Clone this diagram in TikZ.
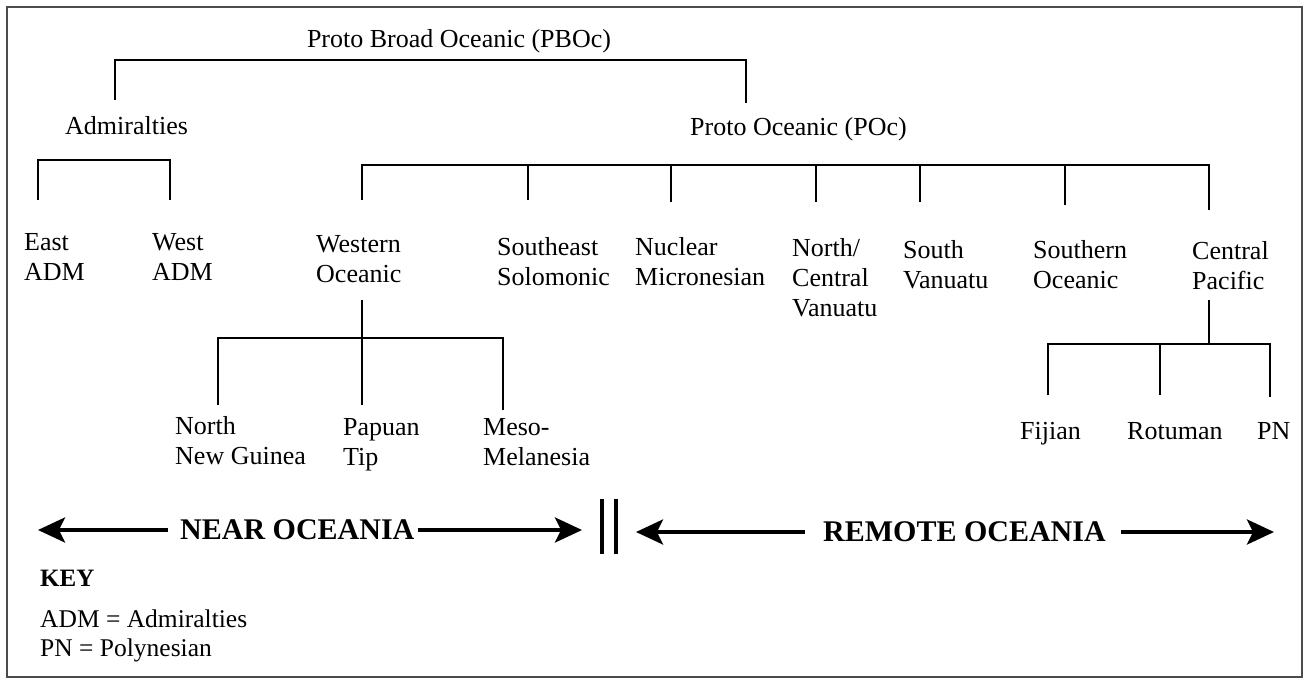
\documentclass[tikz,border=0pt]{standalone}
\usepackage{fontspec}
\setmainfont{Liberation Serif}
\usetikzlibrary{arrows.meta}

\tikzset{
  lang/.style={inner sep=0pt, align=left, anchor=north west, font=\fontsize{26}{30}\selectfont},
  branch/.style={line width=1.8pt},
  zone/.style={inner sep=0pt, anchor=west, font=\fontsize{30}{34}\selectfont\bfseries},
  zonearrow/.style={line width=3.6pt, -{Stealth[length=27pt,width=25pt,inset=6pt]}},
}

\begin{document}
\begin{tikzpicture}[x=1pt,y=-1pt]
    \useasboundingbox (0,0) rectangle (1308,682);
    \draw[line width=1.6pt, black!70] (7,7) rectangle (1302,677);

    % Top levels.
    \node[lang, anchor=north] (pboc) at (459,29) {Proto Broad Oceanic (PBOc)};
    \node[lang] (adm) at (65,116) {Admiralties};
    \node[lang] (poc) at (690,117) {Proto Oceanic (POc)};

    % Admiralties and Oceanic subgroups.
    \node[lang] (eadm) at (24,233) {East\\ADM};
    \node[lang] (wadm) at (152,233) {West\\ADM};
    \node[lang] (wo) at (316,235) {Western\\Oceanic};
    \node[lang] (ses) at (497,237) {Southeast\\Solomonic};
    \node[lang] (nm) at (635,237) {Nuclear\\Micronesian};
    \node[lang] (ncv) at (792,238) {North/\\Central\\Vanuatu};
    \node[lang] (sv) at (903,240) {South\\Vanuatu};
    \node[lang] (so) at (1033,240) {Southern\\Oceanic};
    \node[lang] (cp) at (1192,241) {Central\\Pacific};

    % Western Oceanic and Central Pacific subgroups.
    \node[lang] (nng) at (175,416) {North\\New Guinea};
    \node[lang] (pt) at (343,418) {Papuan\\Tip};
    \node[lang] (mm) at (483,418) {Meso-\\Melanesia};
    \node[lang] (fij) at (1020,422) {Fijian};
    \node[lang] (rot) at (1127,422) {Rotuman};
    \node[lang] (pn) at (1257,422) {PN};

    % Bar levels and line ends.
    \coordinate (pboc-bar) at (0,60);
    \coordinate (adm-bar) at (0,160);
    \coordinate (poc-bar) at (0,165);
    \coordinate (wo-bar) at (0,338);
    \coordinate (cp-bar) at (0,344);
    \coordinate (adm-up) at (115,100);
    \coordinate (poc-up) at (746,103);
    \coordinate (eadm-up) at (38,200);
    \coordinate (wadm-up) at (170,200);
    \coordinate (wo-up) at (362,200);
    \coordinate (ses-up) at (528,200);
    \coordinate (nm-up) at (671,202);
    \coordinate (ncv-up) at (816,202);
    \coordinate (sv-up) at (920,202);
    \coordinate (so-up) at (1065,205);
    \coordinate (cp-up) at (1209,210);
    \coordinate (wo-down) at (362,300);
    \coordinate (nng-up) at (218,405);
    \coordinate (pt-up) at (362,405);
    \coordinate (mm-up) at (503,410);
    \coordinate (cp-down) at (1209,300);
    \coordinate (fij-up) at (1048,395);
    \coordinate (rot-up) at (1160,395);
    \coordinate (pn-up) at (1270,397);

    % Brackets.
    \draw[branch] (adm-up) |- (pboc-bar -| poc-up) -- (poc-up);
    \draw[branch] (eadm-up) |- (adm-bar -| wadm-up) -- (wadm-up);
    \draw[branch] (wo-up) |- (poc-bar -| cp-up) -- (cp-up);
    \foreach \n in {ses,nm,ncv,sv,so} {\draw[branch] (\n-up |- poc-bar) -- (\n-up);}
    \draw[branch] (wo-down) -- (pt-up);
    \draw[branch] (nng-up) |- (wo-bar -| mm-up) -- (mm-up);
    \draw[branch] (cp-down) -- (cp-down |- cp-bar);
    \draw[branch] (fij-up) |- (cp-bar -| pn-up) -- (pn-up);
    \draw[branch] (rot-up |- cp-bar) -- (rot-up);

    % Near and Remote Oceania.
    \node[zone] (near) at (180,530) {NEAR OCEANIA};
    \node[zone] (remote) at (823,532) {REMOTE OCEANIA};
    \coordinate (near-l) at (38,530);
    \coordinate (near-r) at (582,530);
    \coordinate (remote-l) at (636,532);
    \coordinate (remote-r) at (1274,532);
    \draw[zonearrow, shorten <=12pt] (near.west) -- (near-l);
    \draw[zonearrow, shorten <=3pt] (near.east) -- (near-r);
    \draw[zonearrow, shorten <=18pt] (remote.west) -- (remote-l);
    \draw[zonearrow, shorten <=15pt] (remote.east) -- (remote-r);
    \coordinate (sep-a) at (602,499);
    \coordinate (sep-b) at (616,499);
    \draw[line width=3.4pt] (sep-a) -- ++(0,55) (sep-b) -- ++(0,55);

    % Key.
    \node[lang, font=\fontsize{25}{30}\selectfont\bfseries] (key) at (40,570) {KEY};
    \node[lang, font=\fontsize{25.5}{29}\selectfont] (keytext) at (40,610) {ADM = Admiralties\\PN = Polynesian};
\end{tikzpicture}
\end{document}
